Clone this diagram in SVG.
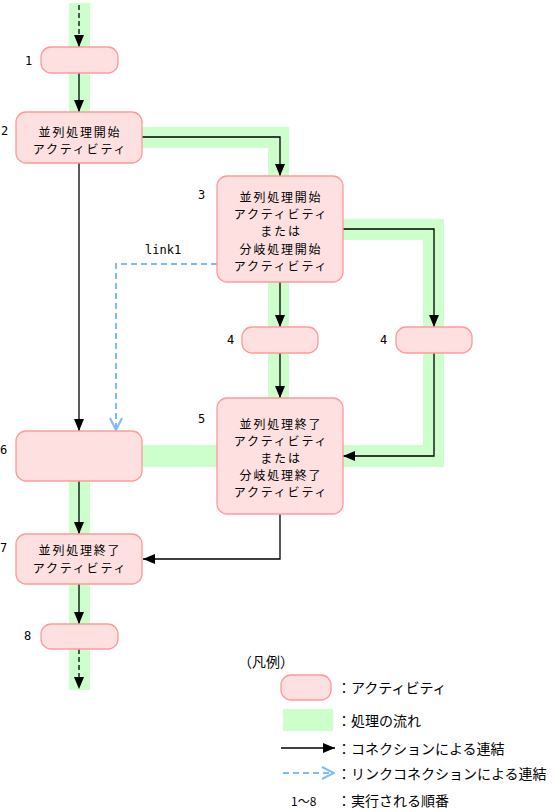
<svg xmlns="http://www.w3.org/2000/svg" width="555" height="812" viewBox="0 0 555 812">
<style>
.node{fill:#FFE0E0;stroke:#FF9999;stroke-width:1.3}
.flow{fill:#CCFFCC;stroke:none}
.conn{fill:none;stroke:#000;stroke-width:1.3}
.dash{fill:none;stroke:#000;stroke-width:1.3;stroke-dasharray:5,3}
.link{fill:none;stroke:#7DBBF7;stroke-width:2;stroke-dasharray:6,4}
text{font-family:"Noto Sans CJK JP","Noto Sans",sans-serif;font-size:14px;fill:#000}
.t{text-anchor:middle;dominant-baseline:central;font-size:12px;letter-spacing:1.8px}
.num{font-family:"DejaVu Sans Mono","Liberation Mono",monospace;font-size:12px;dominant-baseline:central}
.lg{dominant-baseline:central}
</style>
<defs>
<marker id="arr" markerUnits="userSpaceOnUse" markerWidth="12" markerHeight="10" refX="12" refY="5" orient="auto">
<path d="M0,0 L12,5 L0,10 z" fill="#000"/>
</marker>
<marker id="open" markerUnits="userSpaceOnUse" markerWidth="14" markerHeight="14" refX="13" refY="7" orient="auto">
<path d="M1,1 L13,7 L1,13" fill="none" stroke="#7DBBF7" stroke-width="2"/>
</marker>
</defs>
<g id="flows">
<rect class="flow" x="69" y="3" width="21" height="110"/>
<rect class="flow" x="69" y="481" width="21" height="53"/>
<rect class="flow" x="69" y="584" width="21" height="106"/>
<rect class="flow" x="142" y="127" width="147" height="21"/>
<rect class="flow" x="268" y="127" width="21" height="272"/>
<rect class="flow" x="343" y="219" width="101" height="21"/>
<rect class="flow" x="423" y="219" width="21" height="248"/>
<rect class="flow" x="343" y="445" width="101" height="22"/>
<rect class="flow" x="142" y="445" width="76" height="22"/>
</g>
<g id="connectors">
<line class="dash" x1="79" y1="5" x2="79" y2="47" marker-end="url(#arr)"/>
<line class="conn" x1="79" y1="73" x2="79" y2="112" marker-end="url(#arr)"/>
<polyline class="conn" points="142,137 280,137 280,176" marker-end="url(#arr)"/>
<line class="conn" x1="79" y1="163" x2="79" y2="431" marker-end="url(#arr)"/>
<polyline class="conn" points="343,229 434,229 434,327" marker-end="url(#arr)"/>
<line class="conn" x1="280" y1="282" x2="280" y2="327" marker-end="url(#arr)"/>
<line class="conn" x1="280" y1="353" x2="280" y2="398" marker-end="url(#arr)"/>
<polyline class="conn" points="434,353 434,456 343,456" marker-end="url(#arr)"/>
<polyline class="link" points="217,264 116,264 116,430" marker-end="url(#open)"/>
<line class="conn" x1="79" y1="481" x2="79" y2="534" marker-end="url(#arr)"/>
<polyline class="conn" points="280,514 280,559 143,559" marker-end="url(#arr)"/>
<line class="conn" x1="79" y1="584" x2="79" y2="624" marker-end="url(#arr)"/>
<line class="dash" x1="79" y1="649" x2="79" y2="689" marker-end="url(#arr)"/>
<text class="num" x="145" y="250">link1</text>
</g>
<g id="n1">
<rect class="node" x="41" y="47" width="77" height="26" rx="10"/>
<text class="num" x="25" y="61">1</text>
</g>
<g id="n2">
<rect class="node" x="16" y="112" width="126" height="51" rx="10"/>
<text class="t" x="80" y="131">並列処理開始</text>
<text class="t" x="80" y="148">アクティビティ</text>
<text class="num" x="1" y="131">2</text>
</g>
<g id="n3">
<rect class="node" x="217" y="176" width="126" height="106" rx="10"/>
<text class="t" x="281" y="196">並列処理開始</text>
<text class="t" x="281" y="213">アクティビティ</text>
<text class="t" x="281" y="230">または</text>
<text class="t" x="281" y="248">分岐処理開始</text>
<text class="t" x="281" y="265">アクティビティ</text>
<text class="num" x="198" y="195">3</text>
</g>
<g id="n4a">
<rect class="node" x="242" y="327" width="76" height="26" rx="10"/>
<text class="num" x="227" y="340">4</text>
</g>
<g id="n4b">
<rect class="node" x="396" y="327" width="76" height="26" rx="10"/>
<text class="num" x="380" y="340">4</text>
</g>
<g id="n5">
<rect class="node" x="217" y="398" width="126" height="116" rx="10"/>
<text class="t" x="281" y="423">並列処理終了</text>
<text class="t" x="281" y="440">アクティビティ</text>
<text class="t" x="281" y="457">または</text>
<text class="t" x="281" y="474">分岐処理終了</text>
<text class="t" x="281" y="491">アクティビティ</text>
<text class="num" x="198" y="419">5</text>
</g>
<g id="n6">
<rect class="node" x="16" y="431" width="126" height="50" rx="10"/>
<text class="num" x="0" y="450">6</text>
</g>
<g id="n7">
<rect class="node" x="16" y="534" width="126" height="50" rx="10"/>
<text class="t" x="80" y="549">並列処理終了</text>
<text class="t" x="80" y="567">アクティビティ</text>
<text class="num" x="0" y="548">7</text>
</g>
<g id="n8">
<rect class="node" x="41" y="624" width="77" height="25" rx="10"/>
<text class="num" x="24" y="636">8</text>
</g>
<g id="legend">
<text class="lg" x="238" y="661">（凡例）</text>
<rect class="node" x="281" y="675" width="50" height="25" rx="10"/>
<text class="lg" x="337" y="687">：アクティビティ</text>
<rect class="flow" x="283" y="709" width="50" height="22"/>
<text class="lg" x="337" y="720">：処理の流れ</text>
<line class="conn" x1="281" y1="748" x2="335" y2="748" marker-end="url(#arr)"/>
<text class="lg" x="337" y="748">：コネクションによる連結</text>
<line class="link" x1="283" y1="773" x2="334" y2="773" marker-end="url(#open)"/>
<text class="lg" x="337" y="773">：リンクコネクションによる連結</text>
<text class="lg" x="291" y="800" style="font-size:12px">1～8</text>
<text class="lg" x="337" y="800">：実行される順番</text>
</g>
</svg>
